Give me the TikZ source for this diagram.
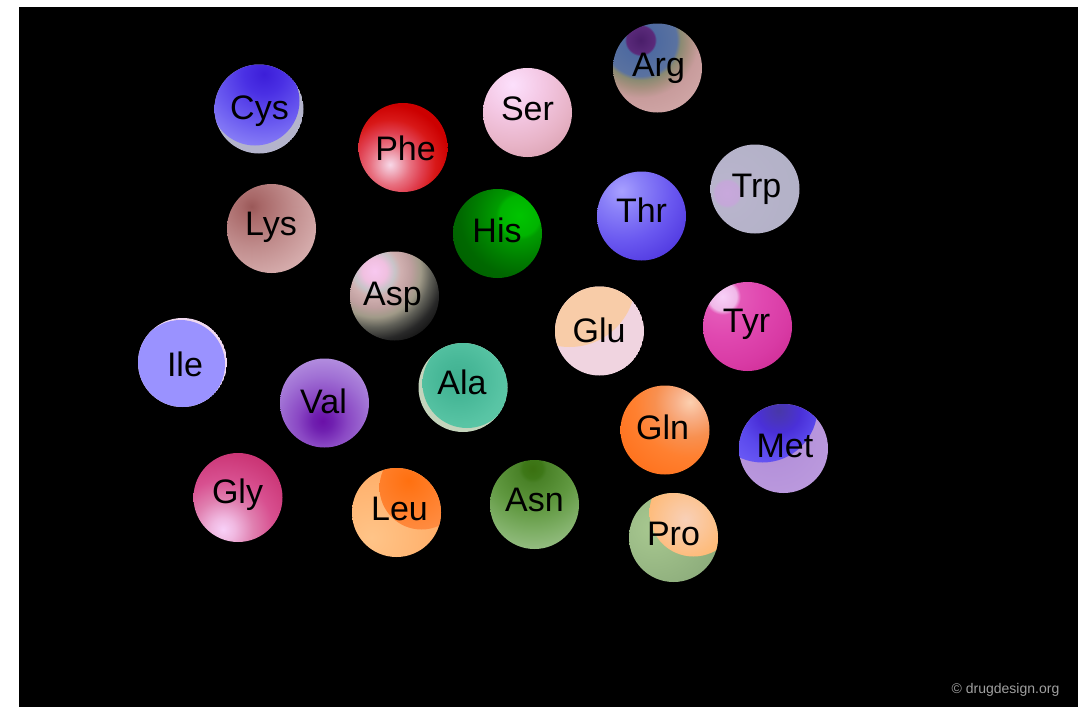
\documentclass[tikz,border=0pt]{standalone}
\usepackage{fontspec}
\setmainfont{Liberation Sans}
% ---------- colours ----------
\definecolor{cysBase}{HTML}{B4B4CC}
\definecolor{cysA}{HTML}{3C1ED8}\definecolor{cysB}{HTML}{4A30E4}\definecolor{cysC}{HTML}{6A5AF0}\definecolor{cysD}{HTML}{9088F8}\definecolor{cysE}{HTML}{A098FF}
\definecolor{pheA}{HTML}{F8D8E8}\definecolor{pheB}{HTML}{F0B0C0}\definecolor{pheC}{HTML}{E87080}\definecolor{pheD}{HTML}{E04050}\definecolor{pheE}{HTML}{D81818}\definecolor{pheF}{HTML}{CC0000}
\definecolor{lysA}{HTML}{9A5858}\definecolor{lysB}{HTML}{A86868}\definecolor{lysC}{HTML}{C08C8C}\definecolor{lysD}{HTML}{D4AAAA}\definecolor{lysE}{HTML}{DCB8B8}
\definecolor{serA}{HTML}{FCE0FC}\definecolor{serB}{HTML}{F4C8E4}\definecolor{serC}{HTML}{E8B4C8}\definecolor{serD}{HTML}{DCA4B4}\definecolor{serE}{HTML}{D8A0B0}
\definecolor{argA}{HTML}{4A1E6A}\definecolor{argB}{HTML}{5A2A7A}\definecolor{argC}{HTML}{4E6AA0}\definecolor{argD}{HTML}{5A72A0}\definecolor{argE}{HTML}{8A8A72}\definecolor{argF}{HTML}{A89080}\definecolor{argG}{HTML}{C89C9C}\definecolor{argH}{HTML}{D8B0B0}
\definecolor{hisA}{HTML}{00C400}\definecolor{hisB}{HTML}{00B400}\definecolor{hisC}{HTML}{009C00}\definecolor{hisD}{HTML}{007C00}\definecolor{hisE}{HTML}{006800}\definecolor{hisF}{HTML}{005800}
\definecolor{thrA}{HTML}{A8A0FF}\definecolor{thrB}{HTML}{8A80F8}\definecolor{thrC}{HTML}{6A58F0}\definecolor{thrD}{HTML}{5038E0}\definecolor{thrE}{HTML}{4828D8}
\definecolor{trpA}{HTML}{C8A8DC}\definecolor{trpB}{HTML}{C4A8D8}\definecolor{trpC}{HTML}{B8B4CC}\definecolor{trpD}{HTML}{B0B0C4}
\definecolor{aspA}{HTML}{F8C8F0}\definecolor{aspB}{HTML}{F0C0E0}\definecolor{aspC}{HTML}{C8C4C8}\definecolor{aspD}{HTML}{D0B0B0}\definecolor{aspE}{HTML}{C0A0A0}\definecolor{aspF}{HTML}{A09A88}\definecolor{aspG}{HTML}{606058}\definecolor{aspH}{HTML}{282828}\definecolor{aspI}{HTML}{101010}
\definecolor{gluPink}{HTML}{F0D4E0}\definecolor{gluPeach}{HTML}{F8CCA8}
\definecolor{tyrA}{HTML}{F8D0F8}\definecolor{tyrB}{HTML}{F0B8E8}\definecolor{tyrC}{HTML}{E458B8}\definecolor{tyrD}{HTML}{E048B0}\definecolor{tyrE}{HTML}{D83AA4}\definecolor{tyrF}{HTML}{CC2890}
\definecolor{ileRim}{HTML}{F0D8F0}\definecolor{ileMain}{HTML}{9A92FF}
\definecolor{valA}{HTML}{6A10A8}\definecolor{valB}{HTML}{7020B0}\definecolor{valC}{HTML}{8A48C4}\definecolor{valD}{HTML}{A070D4}\definecolor{valE}{HTML}{B490E0}\definecolor{valF}{HTML}{C0A0E8}
\definecolor{alaBase}{HTML}{C4D4BC}
\definecolor{alaA}{HTML}{40B090}\definecolor{alaB}{HTML}{48B898}\definecolor{alaC}{HTML}{58C4A4}\definecolor{alaD}{HTML}{70D0B0}
\definecolor{glnA}{HTML}{FCD0B0}\definecolor{glnB}{HTML}{F8B088}\definecolor{glnC}{HTML}{F89050}\definecolor{glnD}{HTML}{FF8030}\definecolor{glnE}{HTML}{FF7420}\definecolor{glnF}{HTML}{F87018}
\definecolor{metBase}{HTML}{B08CD8}\definecolor{metBase2}{HTML}{C0A0E0}
\definecolor{metA}{HTML}{4838A8}\definecolor{metB}{HTML}{4A34C0}\definecolor{metC}{HTML}{4A30D8}\definecolor{metD}{HTML}{5A48EC}\definecolor{metE}{HTML}{6858F4}\definecolor{metF}{HTML}{7060F8}
\definecolor{glyA}{HTML}{F8D0F8}\definecolor{glyB}{HTML}{F0B8E0}\definecolor{glyC}{HTML}{E080B0}\definecolor{glyD}{HTML}{D85090}\definecolor{glyE}{HTML}{CC3878}\definecolor{glyF}{HTML}{C02868}
\definecolor{leuLightA}{HTML}{FFC488}\definecolor{leuLightB}{HTML}{FFA860}
\definecolor{leuDarkA}{HTML}{FF7010}\definecolor{leuDarkB}{HTML}{FF9048}
\definecolor{asnA}{HTML}{3A7010}\definecolor{asnB}{HTML}{3E7818}\definecolor{asnC}{HTML}{4A8228}\definecolor{asnD}{HTML}{609840}\definecolor{asnE}{HTML}{80B068}\definecolor{asnF}{HTML}{A0C490}\definecolor{asnG}{HTML}{B0CCA0}
\definecolor{proGreenA}{HTML}{A8C890}\definecolor{proGreenB}{HTML}{88A878}
\definecolor{proOrA}{HTML}{F8D0B8}\definecolor{proOrB}{HTML}{FFB870}
\definecolor{copyGray}{HTML}{A0A0A0}
% ---------- shadings (shade circle radius 100pt: 1bp = 4px) ----------
\pgfdeclareradialshading{shCys}{\pgfpointorigin}{color(0bp)=(cysA); color(5bp)=(cysB); color(12.5bp)=(cysC); color(20bp)=(cysD); color(25bp)=(cysE); color(50bp)=(cysE)}
\pgfdeclareradialshading{shPhe}{\pgfpointorigin}{color(0bp)=(pheA); color(2bp)=(pheB); color(5bp)=(pheC); color(8bp)=(pheD); color(11.25bp)=(pheE); color(15bp)=(pheF); color(50bp)=(pheF)}
\pgfdeclareradialshading{shLys}{\pgfpointorigin}{color(0bp)=(lysA); color(2.5bp)=(lysB); color(10bp)=(lysC); color(17.5bp)=(lysD); color(25bp)=(lysE); color(50bp)=(lysE)}
\pgfdeclareradialshading{shSer}{\pgfpointorigin}{color(0bp)=(serA); color(7.5bp)=(serB); color(15bp)=(serC); color(20bp)=(serD); color(25bp)=(serE); color(50bp)=(serE)}
\pgfdeclareradialshading{shArg}{\pgfpointorigin}{color(0bp)=(argA); color(3.5bp)=(argB); color(4bp)=(argC); color(9bp)=(argD); color(10bp)=(argE); color(12bp)=(argF); color(14.5bp)=(argG); color(25bp)=(argH); color(50bp)=(argH)}
\pgfdeclareradialshading{shHis}{\pgfpointorigin}{color(0bp)=(hisA); color(5bp)=(hisB); color(6bp)=(hisC); color(11.25bp)=(hisD); color(15bp)=(hisE); color(25bp)=(hisF); color(50bp)=(hisF)}
\pgfdeclareradialshading{shThr}{\pgfpointorigin}{color(0bp)=(thrA); color(5bp)=(thrB); color(12.5bp)=(thrC); color(20bp)=(thrD); color(25bp)=(thrE); color(50bp)=(thrE)}
\pgfdeclareradialshading{shTrp}{\pgfpointorigin}{color(0bp)=(trpA); color(3bp)=(trpB); color(3.75bp)=(trpC); color(25bp)=(trpD); color(50bp)=(trpD)}
\pgfdeclareradialshading{shAsp}{\pgfpointorigin}{color(0bp)=(aspA); color(3bp)=(aspB); color(5bp)=(aspC); color(6.5bp)=(aspD); color(9bp)=(aspE); color(11.5bp)=(aspF); color(14bp)=(aspG); color(17bp)=(aspH); color(20bp)=(aspI); color(50bp)=(aspI)}
\pgfdeclareradialshading{shTyr}{\pgfpointorigin}{color(0bp)=(tyrA); color(3.5bp)=(tyrB); color(4.5bp)=(tyrC); color(10bp)=(tyrD); color(17.5bp)=(tyrE); color(25bp)=(tyrF); color(50bp)=(tyrF)}
\pgfdeclareradialshading{shVal}{\pgfpointorigin}{color(0bp)=(valA); color(2.5bp)=(valB); color(6.25bp)=(valC); color(11.25bp)=(valD); color(16.25bp)=(valE); color(25bp)=(valF); color(50bp)=(valF)}
\pgfdeclareradialshading{shAla}{\pgfpointorigin}{color(0bp)=(alaA); color(5bp)=(alaB); color(11.25bp)=(alaC); color(25bp)=(alaD); color(50bp)=(alaD)}
\pgfdeclareradialshading{shGln}{\pgfpointorigin}{color(0bp)=(glnA); color(3.75bp)=(glnB); color(8.75bp)=(glnC); color(13.75bp)=(glnD); color(20bp)=(glnE); color(25bp)=(glnF); color(50bp)=(glnF)}
\pgfdeclareradialshading{shMet}{\pgfpointorigin}{color(0bp)=(metA); color(3bp)=(metB); color(5.5bp)=(metC); color(10bp)=(metD); color(15bp)=(metE); color(25bp)=(metF); color(50bp)=(metF)}
\pgfdeclareradialshading{shGly}{\pgfpointorigin}{color(0bp)=(glyA); color(3bp)=(glyB); color(7.5bp)=(glyC); color(12.5bp)=(glyD); color(18.75bp)=(glyE); color(25bp)=(glyF); color(50bp)=(glyF)}
\pgfdeclareradialshading{shAsn}{\pgfpointorigin}{color(0bp)=(asnA); color(2.5bp)=(asnB); color(3.5bp)=(asnC); color(10bp)=(asnD); color(16.25bp)=(asnE); color(22.5bp)=(asnF); color(25bp)=(asnG); color(50bp)=(asnG)}
\tikzset{
  lbl/.style={font=\fontsize{34}{34}\selectfont, text=black, inner sep=0pt, anchor=base},
  copyr/.style={font=\fontsize{14}{14}\selectfont, text=copyGray, inner sep=0pt},
}
\def\br{44.5pt}
\begin{document}
\begin{tikzpicture}[x=1pt,y=-1pt]
\useasboundingbox (0,0) rectangle (1089,707);
\fill[white] (0,0) rectangle (1089,707);
\fill[black] (19,7) rectangle (1078,707);
% ball centres
\coordinate (bCys) at (259,109);
\coordinate (bPhe) at (403,147.5);
\coordinate (bSer) at (527.5,112.5);
\coordinate (bArg) at (657.5,68);
\coordinate (bTrp) at (755,189);
\coordinate (bThr) at (641.5,216);
\coordinate (bHis) at (497.5,233.5);
\coordinate (bLys) at (271.5,228.5);
\coordinate (bAsp) at (394.5,296);
\coordinate (bGlu) at (599.5,331);
\coordinate (bTyr) at (747.5,326.5);
\coordinate (bIle) at (182.5,362.5);
\coordinate (bVal) at (324.5,403);
\coordinate (bAla) at (463,387.5);
\coordinate (bGln) at (665,430);
\coordinate (bMet) at (783.5,448.5);
\coordinate (bGly) at (238,497.5);
\coordinate (bLeu) at (396.5,512.5);
\coordinate (bAsn) at (534.5,504.5);
\coordinate (bPro) at (673.5,537.5);
% Cys
\begin{scope}
 \clip (bCys) circle (\br);
 \fill[cysBase] (bCys) circle (\br);
 \clip ([shift={(-4,-8)}]bCys) circle (\br);
 \shade[shading=shCys] ([shift={(5,-35)}]bCys) circle (100pt);
\end{scope}
% Phe
\begin{scope}
 \clip (bPhe) circle (\br);
 \shade[shading=shPhe] ([shift={(-13,17)}]bPhe) circle (100pt);
\end{scope}
% Lys
\begin{scope}
 \clip (bLys) circle (\br);
 \shade[shading=shLys] ([shift={(-20,-22)}]bLys) circle (100pt);
\end{scope}
% Ser
\begin{scope}
 \clip (bSer) circle (\br);
 \shade[shading=shSer] ([shift={(-15,-28)}]bSer) circle (100pt);
\end{scope}
% Arg
\begin{scope}
 \clip (bArg) circle (\br);
 \shade[shading=shArg] ([shift={(-17,-28)}]bArg) circle (100pt);
\end{scope}
% His
\begin{scope}
 \clip (bHis) circle (\br);
 \shade[shading=shHis] ([shift={(22,-18)}]bHis) circle (100pt);
\end{scope}
% Thr
\begin{scope}
 \clip (bThr) circle (\br);
 \shade[shading=shThr] ([shift={(-20,-25)}]bThr) circle (100pt);
\end{scope}
% Trp
\begin{scope}
 \clip (bTrp) circle (\br);
 \shade[shading=shTrp] ([shift={(-28,4)}]bTrp) circle (100pt);
\end{scope}
% Asp
\begin{scope}
 \clip (bAsp) circle (\br);
 \shade[shading=shAsp] ([shift={(-20,-25)}]bAsp) circle (100pt);
\end{scope}
% Glu
\begin{scope}
 \clip (bGlu) circle (\br);
 \fill[gluPink] (bGlu) circle (\br);
 \fill[gluPeach] ([shift={(-30,-50)}]bGlu) circle (66pt);
\end{scope}
% Tyr
\begin{scope}
 \clip (bTyr) circle (\br);
 \shade[shading=shTyr] ([shift={(-25,-30)}]bTyr) circle (100pt);
\end{scope}
% Ile
\begin{scope}
 \clip (bIle) circle (\br);
 \fill[ileRim] (bIle) circle (\br);
 \fill[ileMain] ([shift={(-2,2)}]bIle) circle (\br);
\end{scope}
% Val
\begin{scope}
 \clip (bVal) circle (\br);
 \shade[shading=shVal] ([shift={(-2,18)}]bVal) circle (100pt);
\end{scope}
% Ala
\begin{scope}
 \clip (bAla) circle (\br);
 \fill[alaBase] (bAla) circle (\br);
 \clip ([shift={(4,-4)}]bAla) circle (\br);
 \shade[shading=shAla] ([shift={(-5,-8)}]bAla) circle (100pt);
\end{scope}
% Gln
\begin{scope}
 \clip (bGln) circle (\br);
 \shade[shading=shGln] ([shift={(25,-28)}]bGln) circle (100pt);
\end{scope}
% Met
\begin{scope}
 \clip (bMet) circle (\br);
 \shade[inner color=metBase, outer color=metBase2] ([shift={(-10,-10)}]bMet) circle (90pt);
 \clip ([shift={(-21,-41)}]bMet) circle (55pt);
 \shade[shading=shMet] ([shift={(-5,-38)}]bMet) circle (100pt);
\end{scope}
% Gly
\begin{scope}
 \clip (bGly) circle (\br);
 \shade[shading=shGly] ([shift={(-15,32)}]bGly) circle (100pt);
\end{scope}
% Leu
\begin{scope}
 \clip (bLeu) circle (\br);
 \shade[inner color=leuLightA, outer color=leuLightB] ([shift={(-25,25)}]bLeu) circle (90pt);
 \clip ([shift={(25,-25)}]bLeu) circle (42pt);
 \shade[inner color=leuDarkA, outer color=leuDarkB] ([shift={(12,-32)}]bLeu) circle (60pt);
\end{scope}
% Asn
\begin{scope}
 \clip (bAsn) circle (\br);
 \shade[shading=shAsn] ([shift={(-2,-36)}]bAsn) circle (100pt);
\end{scope}
% Pro
\begin{scope}
 \clip (bPro) circle (\br);
 \shade[inner color=proGreenA, outer color=proGreenB] ([shift={(-20,-10)}]bPro) circle (80pt);
 \clip ([shift={(20,-25)}]bPro) circle (44pt);
 \shade[inner color=proOrA, outer color=proOrB] ([shift={(12,-18)}]bPro) circle (45pt);
\end{scope}
% labels
\node[lbl] (tCys) at (259.5,119) {Cys};
\node[lbl] (tPhe) at (405.5,160) {Phe};
\node[lbl] (tLys) at (271,235) {Lys};
\node[lbl] (tSer) at (527.5,120) {Ser};
\node[lbl] (tHis) at (497,242) {His};
\node[lbl] (tGlu) at (599,342) {Glu};
\node[lbl] (tTyr) at (746.5,332) {Tyr};
\node[lbl] (tIle) at (185,376) {Ile};
\node[lbl] (tVal) at (323.5,413) {Val};
\node[lbl] (tGly) at (237.5,503) {Gly};
\node[lbl] (tLeu) at (399.5,520) {Leu};
\node[lbl] (tAsn) at (534.5,511) {Asn};
\node[lbl] (tArg) at (658.5,76) {Arg};
\node[lbl] (tTrp) at (756.5,197) {Trp};
\node[lbl] (tThr) at (641.5,222) {Thr};
\node[lbl] (tGln) at (662.5,439) {Gln};
\node[lbl] (tMet) at (785,457) {Met};
\node[lbl] (tPro) at (673.5,545) {Pro};
\node[lbl] (tAsp) at (392.5,305) {Asp};
\node[lbl] (tAla) at (462,394) {Ala};
\node[copyr] (copy) at (1005.5,690) {© drugdesign.org};
\end{tikzpicture}
\end{document}
